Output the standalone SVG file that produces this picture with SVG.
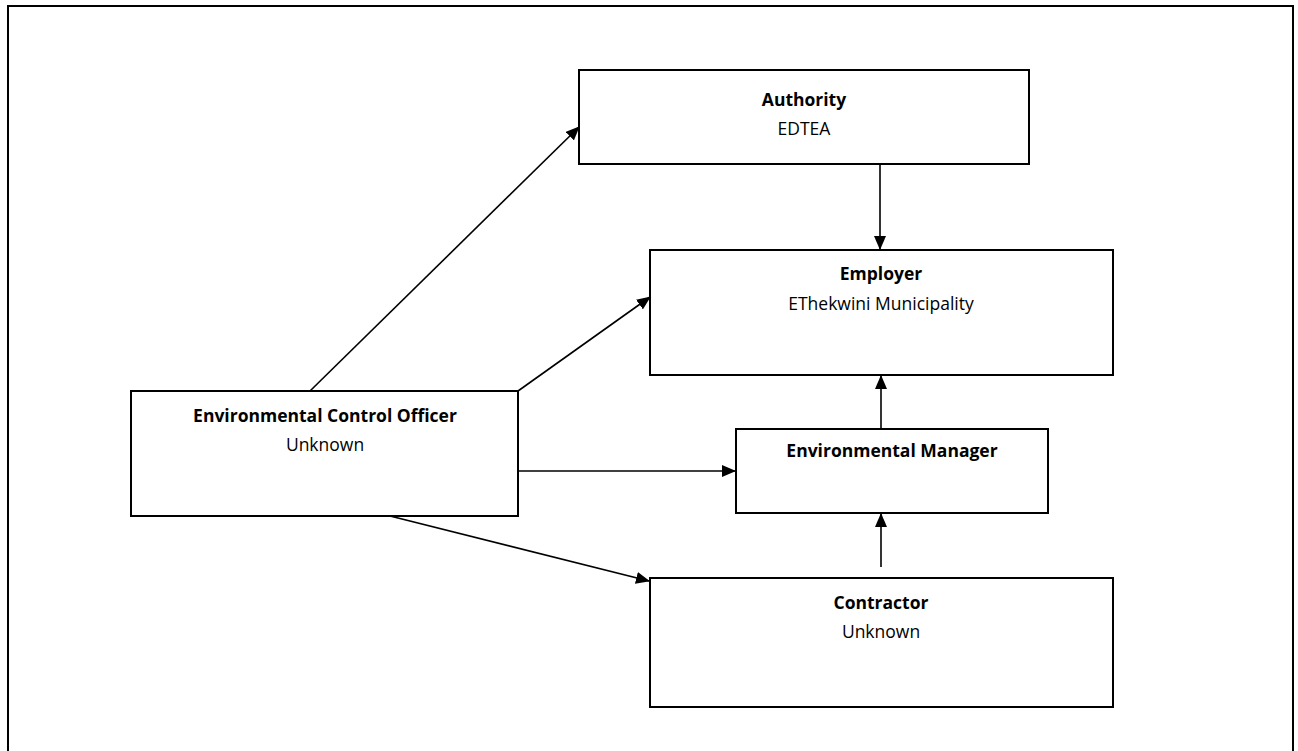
<svg xmlns="http://www.w3.org/2000/svg" width="1298" height="751" viewBox="0 0 1298 751">
<defs>
<style>
.box{fill:#fff;stroke:#000;stroke-width:2}
.t{font-family:"Open Sans","Liberation Sans",sans-serif;font-size:17.5px;text-anchor:middle;fill:#000}
.b{font-weight:bold}
.c{stroke:#000;stroke-width:1.6;fill:none;marker-end:url(#ah)}
</style>
<marker id="ah" markerWidth="14" markerHeight="12" refX="13" refY="6" orient="auto" markerUnits="userSpaceOnUse">
<path d="M0,0 L14,6 L0,12 z" fill="#000"/>
</marker>
</defs>
<rect width="1298" height="751" fill="#fff"/>
<rect x="8" y="6" width="1285" height="760" fill="none" stroke="#000" stroke-width="2"/>
<g id="connectors">
<line class="c" x1="310" y1="391" x2="579" y2="127"/>
<line class="c" x1="518" y1="391" x2="650" y2="297"/>
<line class="c" x1="518" y1="471" x2="735" y2="471"/>
<line class="c" x1="390" y1="516" x2="649" y2="581"/>
<line class="c" x1="880" y1="164" x2="880" y2="249"/>
<line class="c" x1="881" y1="429" x2="881" y2="376"/>
<line class="c" x1="881" y1="567" x2="881" y2="514"/>
</g>
<g id="authority">
<rect class="box" x="579" y="70" width="450" height="94"/>
<text class="t b" x="804" y="106">Authority</text>
<text class="t" x="804" y="135">EDTEA</text>
</g>
<g id="employer">
<rect class="box" x="650" y="250" width="463" height="125"/>
<text class="t b" x="881" y="280">Employer</text>
<text class="t" x="881" y="310">EThekwini Municipality</text>
</g>
<g id="eco">
<rect class="box" x="131" y="391" width="387" height="125"/>
<text class="t b" x="325" y="422">Environmental Control Officer</text>
<text class="t" x="325" y="451">Unknown</text>
</g>
<g id="env-manager">
<rect class="box" x="736" y="429" width="312" height="84"/>
<text class="t b" x="892" y="457">Environmental Manager</text>
</g>
<g id="contractor">
<rect class="box" x="650" y="578" width="463" height="129"/>
<text class="t b" x="881" y="609">Contractor</text>
<text class="t" x="881" y="638">Unknown</text>
</g>
</svg>
